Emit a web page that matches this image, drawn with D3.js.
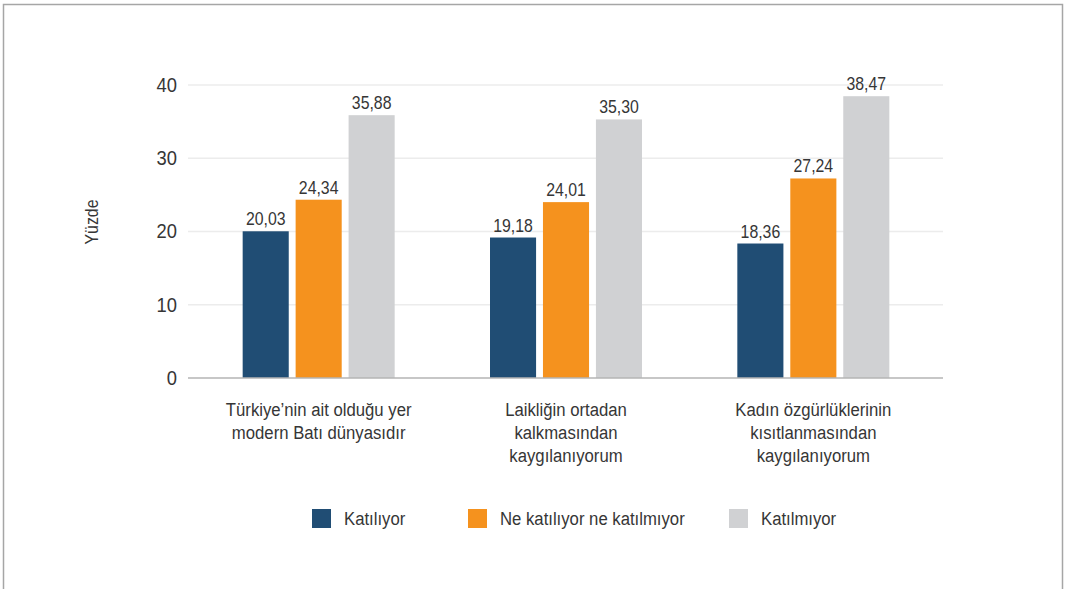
<!DOCTYPE html>
<html>
<head>
<meta charset="utf-8">
<script src="https://cdn.jsdelivr.net/npm/d3@7"></script>
<style>
  html, body { margin: 0; padding: 0; background: #fff; }
  svg { display: block; }
  text { font-family: "Liberation Sans", Arial, sans-serif; fill: #363636; }
</style>
</head>
<body>
<svg id="chart" width="1066" height="589"></svg>
<script>
// Survey statements (each category label split into lines)
const categories = [
  ["Türkiye\u2019nin ait olduğu yer", "modern Batı dünyasıdır"],
  ["Laikliğin ortadan", "kalkmasından", "kaygılanıyorum"],
  ["Kadın özgürlüklerinin", "kısıtlanmasından", "kaygılanıyorum"]
];
const seriesNames = ["Katılıyor", "Ne katılıyor ne katılmıyor", "Katılmıyor"];
const katiliyor = [20.03, 19.18, 18.36];
const kararsiz = [24.34, 24.01, 27.24];
const katilmiyor = [35.88, 35.30, 38.47];
const yTicks = [0, 10, 20, 30, 40];
const seriesColors = ["#204d74", "#f5921e", "#d0d1d3"];

const seriesValues = [katiliyor, kararsiz, katilmiyor];
const svg = d3.select("#chart");
const NARROW = 0.88; // condensed look for all labels

// places a horizontally condensed text at (x, y)
function narrowText(sel, x, y, size, anchor) {
  return sel.append("text")
    .attr("transform", `translate(${x},${y}) scale(${NARROW},1)`)
    .attr("font-size", size)
    .attr("text-anchor", anchor || "start");
}

// outer frame
svg.append("path")
  .attr("d", "M3.5,589 V4.5 H1062.5 V589")
  .attr("fill", "none").attr("stroke", "#a6a6a6").attr("stroke-width", 1.5);

const plotLeft = 188, plotRight = 943;
const y = d3.scaleLinear().domain([0, 40]).range([378, 85]);
const x0 = d3.scaleBand().domain(d3.range(categories.length)).range([195, 937]);
const x1 = d3.scaleBand().domain(d3.range(seriesNames.length)).range([-76, 76]).paddingInner(0.13);

// gridlines
svg.append("g").selectAll("line").data(yTicks.filter(t => t > 0)).join("line")
  .attr("x1", plotLeft).attr("x2", plotRight)
  .attr("y1", d => y(d)).attr("y2", d => y(d))
  .attr("stroke", "#ececec").attr("stroke-width", 1.5);

// y axis tick labels
const yAxis = d3.axisLeft(y).tickValues(yTicks).tickSize(0).tickPadding(0);
const yg = svg.append("g").attr("transform", `translate(${plotLeft - 11},0)`).call(yAxis);
yg.select(".domain").remove();
yg.selectAll("text")
  .attr("x", 0)
  .attr("transform", `scale(${NARROW + 0.04},1)`)
  .attr("font-size", 20).attr("fill", "#363636")
  .attr("font-family", "'Liberation Sans', Arial, sans-serif");

// y axis title
svg.append("text")
  .attr("transform", `translate(98,222) rotate(-90) scale(${NARROW},1)`)
  .attr("text-anchor", "middle").attr("font-size", 18)
  .text("Yüzde");

// bars
const groups = svg.append("g").selectAll("g").data(categories).join("g")
  .attr("transform", (d, i) => `translate(${x0(i) + x0.bandwidth() / 2},0)`);

groups.each(function (cat, ci) {
  const g = d3.select(this);
  const rows = seriesValues.map((vals, si) => ({ si, v: vals[ci] }));
  g.selectAll("rect").data(rows).join("rect")
    .attr("x", d => x1(d.si)).attr("width", x1.bandwidth())
    .attr("y", d => y(d.v)).attr("height", d => y(0) - y(d.v))
    .attr("fill", d => seriesColors[d.si]);
  rows.forEach(d => {
    narrowText(g, x1(d.si) + x1.bandwidth() / 2, y(d.v) - 6, 18, "middle")
      .text(d3.format(".2f")(d.v).replace(".", ","));
  });
  cat.forEach((line, li) => {
    narrowText(g, 0, 416 + li * 23, 19, "middle").text(line);
  });
});

// baseline
svg.append("line")
  .attr("x1", plotLeft).attr("x2", plotRight)
  .attr("y1", y(0)).attr("y2", y(0))
  .attr("stroke", "#b5b5b5").attr("stroke-width", 1.5);

// legend
const legendX = [312, 468, 729];
seriesNames.forEach((name, i) => {
  svg.append("rect").attr("x", legendX[i]).attr("y", 509)
    .attr("width", 19).attr("height", 19).attr("fill", seriesColors[i]);
  narrowText(svg, legendX[i] + 32, 525, 19, "start").text(name);
});
</script>
</body>
</html>
